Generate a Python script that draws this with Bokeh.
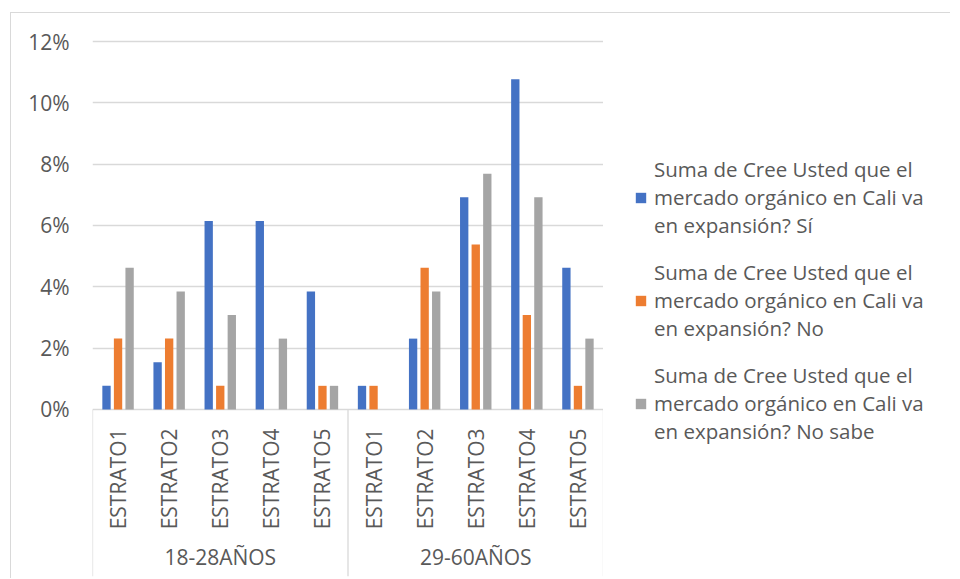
from math import pi
from bokeh.plotting import figure
from bokeh.layouts import row
from bokeh.models import (FactorRange, Range1d, FixedTicker, PrintfTickFormatter,
                          Legend, LegendItem, ColumnDataSource)
from bokeh.transform import dodge
from bokeh.core.properties import value
from bokeh.embed import file_html
from bokeh.resources import INLINE

# ---------------- data ----------------
groups = ["18-28AÑOS", "29-60AÑOS"]
estratos = ["ESTRATO1", "ESTRATO2", "ESTRATO3", "ESTRATO4", "ESTRATO5"]
si = [0.77, 1.54, 6.15, 6.15, 3.85, 0.77, 2.31, 6.92, 10.77, 4.62]
no = [2.31, 2.31, 0.77, 0.0, 0.77, 0.77, 4.62, 5.38, 3.08, 0.77]
no_sabe = [4.62, 3.85, 3.08, 2.31, 0.77, 0.0, 3.85, 7.69, 6.92, 2.31]
series_names = [
    "Suma de Cree Usted que el\nmercado orgánico en Cali va\nen expansión? Sí",
    "Suma de Cree Usted que el\nmercado orgánico en Cali va\nen expansión? No",
    "Suma de Cree Usted que el\nmercado orgánico en Cali va\nen expansión? No sabe",
]
y_ticks = [0, 2, 4, 6, 8, 10, 12]

# ---------------- styling ----------------
colors = ["#4472C4", "#ED7D31", "#A5A5A5"]
text_col = "#595959"
grid_col = "#D9D9D9"
font = "Open Sans"

factors = [(g, e) for g in groups for e in estratos]
labels = [e for g in groups for e in estratos]
source = ColumnDataSource(dict(x=factors, si=si, no=no, ns=no_sabe, lab=labels))

offs = [-0.226, 0.0, 0.226]
cols = ["si", "no", "ns"]

y_bottom = -5.45
x_range = FactorRange(*factors, group_padding=0, factor_padding=0, range_padding=0)
y_range = Range1d(y_bottom, 12.1)

p = figure(
    x_range=x_range, y_range=y_range,
    frame_width=511, frame_height=538,
    min_border_left=81, min_border_top=25, min_border_bottom=2, min_border_right=0,
    x_axis_location=None,
    output_backend="svg", toolbar_location=None,
)
p.outline_line_color = None
p.xgrid.visible = False

yax = p.yaxis[0]
yax.ticker = FixedTicker(ticks=y_ticks)
yax.formatter = PrintfTickFormatter(format="%d%%")
yax.axis_line_color = None
yax.major_tick_line_color = None
yax.minor_tick_line_color = None
yax.major_label_text_font = font
yax.major_label_text_font_size = "21px"
yax.major_label_text_color = text_col
yax.major_label_standoff = 17
p.ygrid.grid_line_color = grid_col
p.ygrid.grid_line_width = 1.3

for off, c, col in zip(offs, cols, colors):
    p.vbar(x=dodge("x", off, range=x_range), top=c, bottom=0, width=0.163,
           source=source, fill_color=col, line_color=None)

# category labels (inner level)
p.text(x="x", y=-0.62, text="lab", source=source, angle=pi / 2,
       text_align="right", text_baseline="middle",
       text_font=value(font), text_font_size="21px", text_color=text_col)
# group labels
p.text(x=groups, y=[-4.83] * len(groups), text=groups,
       text_align="center", text_baseline="middle",
       text_font=value(font), text_font_size="21px", text_color=text_col)
# separators of the category axis
bounds = [(groups[0], estratos[0], -0.5), (groups[1], estratos[0], -0.5),
          (groups[1], estratos[-1], 0.5)]
p.segment(x0=bounds, y0=[0] * 3, x1=bounds, y1=[y_bottom] * 3,
          line_color=grid_col, line_width=1.3)

# ---------------- legend panel ----------------
lf = figure(
    x_range=x_range, y_range=y_range,
    frame_width=347, frame_height=538,
    min_border_left=0, min_border_top=25, min_border_bottom=2, min_border_right=0,
    x_axis_location=None, y_axis_location=None,
    output_backend="svg", toolbar_location=None,
)
lf.outline_line_color = None
lf.grid.visible = False
leg_renderers = []
for off, c, col in zip(offs, cols, colors):
    r = lf.vbar(x=dodge("x", off, range=x_range), top=c, bottom=0, width=0.163,
                source=source, fill_color=col, line_color=None, visible=False)
    leg_renderers.append(r)
legend = Legend(
    items=[LegendItem(label=n, renderers=[r]) for n, r in zip(series_names, leg_renderers)],
    location=(31, 131),
)
legend.border_line_color = None
legend.background_fill_alpha = 0
legend.label_text_font = font
legend.label_text_font_size = "20.5px"
legend.label_text_color = text_col
legend.glyph_width = 13
legend.glyph_height = 13
legend.label_standoff = 7
legend.spacing = 19
legend.margin = 0
legend.padding = 10
lf.add_layout(legend, "center")

layout = row(p, lf, styles={"margin-left": "10px", "margin-top": "12px",
                            "border-left": "1px solid #D9D9D9",
                            "border-top": "1px solid #D9D9D9"})
open("out.html", "w").write(file_html(layout, INLINE))
